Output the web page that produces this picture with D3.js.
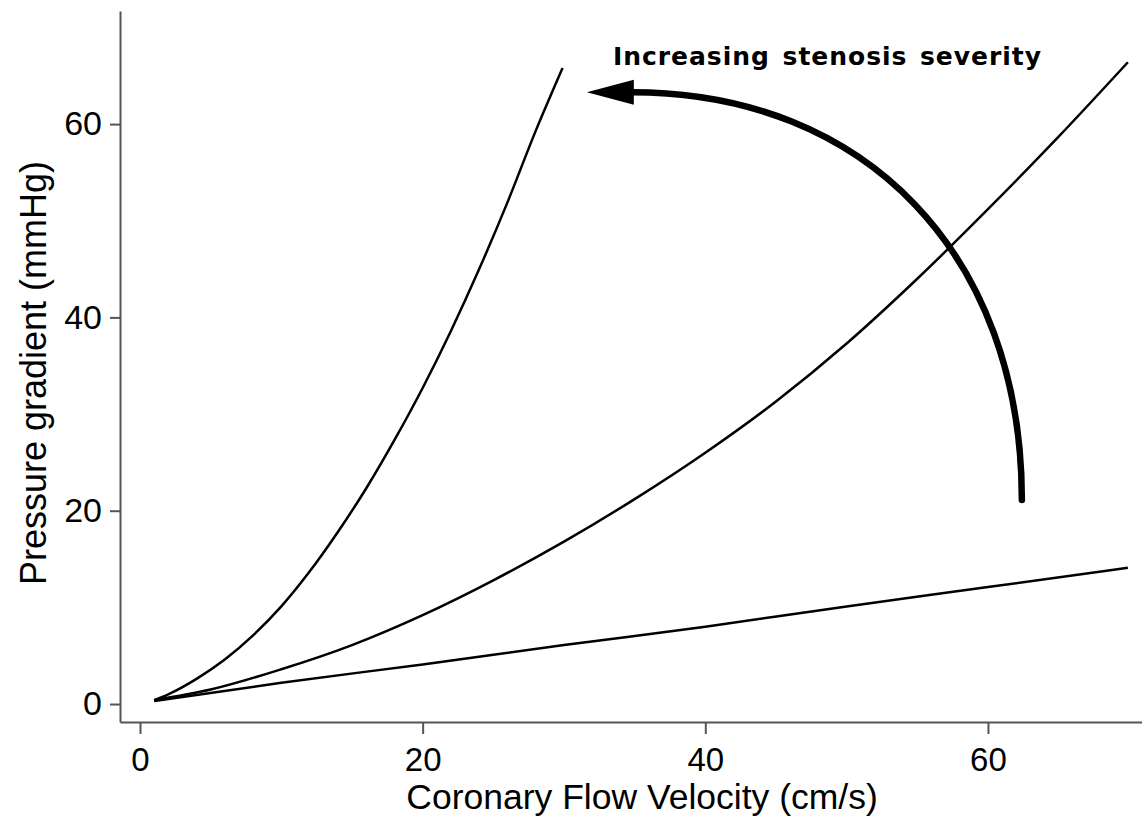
<!DOCTYPE html>
<html>
<head>
<meta charset="utf-8">
<script src="https://cdn.jsdelivr.net/npm/d3@7"></script>
<style>
  body { margin: 0; background: #fff; }
  svg { display: block; }
</style>
</head>
<body>
<svg id="svg1"></svg>
<script>
// data
const xTicks = [0, 20, 40, 60];
const yTicks = [0, 20, 40, 60];

// severe stenosis
const velSevere = [1.0, 2, 4, 6, 8, 10, 12, 14, 16, 18, 20, 22, 24, 26, 28, 29.9];
const presSevere = [0.4, 1.0, 2.6, 4.6, 7.1, 10.1, 13.7, 17.8, 22.3, 27.3, 32.7, 38.6, 45.0, 51.9, 59.3, 65.8];

// moderate stenosis
const velModerate = [1.0, 5, 10, 15, 20, 25, 30, 35, 40, 45, 50, 55, 60, 65, 69.9];
const presModerate = [0.4, 1.5, 3.6, 6.1, 9.2, 12.8, 16.8, 21.2, 26.0, 31.3, 37.3, 44.0, 51.2, 58.7, 66.4];

// mild stenosis
const velMild = [1.0, 10, 20, 30, 40, 50, 60, 69.9];
const presMild = [0.3, 2.2, 4.1, 6.1, 8.0, 10.1, 12.1, 14.1];

// curved annotation arrow (data units): tail, two control points, head base
const arrowVel = [62.4, 62.4, 51.4, 34.8];
const arrowPres = [21.1, 46.4, 63.3, 63.3];

const width = 1142;
const height = 816;

const svg = d3.select('#svg1')
    .attr('width', width)
    .attr('height', height);

const x = d3.scaleLinear()
    .domain([-1.415, 70.9])
    .range([120, 1142]);

const y = d3.scaleLinear()
    .domain([-1.86, 71.7])
    .range([722, 11]);

// X axis
const xAxis = svg.append('g')
    .attr('transform', 'translate(0,722)')
    .call(d3.axisBottom(x).tickValues(xTicks).tickSize(12).tickSizeOuter(0).tickPadding(14));
xAxis.select('.domain').attr('stroke', '#555').attr('stroke-width', 2);
xAxis.selectAll('.tick line').attr('stroke', '#555').attr('stroke-width', 2);
xAxis.selectAll('.tick text')
    .attr('fill', '#000')
    .style('font-family', 'Liberation Sans, Arial, sans-serif')
    .style('font-size', '33px');

// Y axis
const yAxis = svg.append('g')
    .attr('transform', 'translate(120,0)')
    .call(d3.axisLeft(y).tickValues(yTicks).tickSize(10).tickSizeOuter(0).tickPadding(8));
yAxis.select('.domain').attr('stroke', '#555').attr('stroke-width', 2);
yAxis.selectAll('.tick line').attr('stroke', '#555').attr('stroke-width', 2);
yAxis.selectAll('.tick text')
    .attr('fill', '#000')
    .style('font-family', 'Liberation Sans, Arial, sans-serif')
    .style('font-size', '34px');

// axis titles
svg.append('text')
    .attr('x', 642)
    .attr('y', 809)
    .attr('text-anchor', 'middle')
    .style('font-family', 'Liberation Sans, Arial, sans-serif')
    .style('font-size', '35.5px')
    .text('Coronary Flow Velocity (cm/s)');

svg.append('text')
    .attr('transform', 'translate(46,373)rotate(-90)')
    .attr('text-anchor', 'middle')
    .style('font-family', 'Liberation Sans, Arial, sans-serif')
    .style('font-size', '36px')
    .text('Pressure gradient (mmHg)');

// curves
const line = d3.line()
    .x(d => x(d[0]))
    .y(d => y(d[1]))
    .curve(d3.curveMonotoneX);

const series = [
  d3.zip(velSevere, presSevere),
  d3.zip(velModerate, presModerate),
  d3.zip(velMild, presMild)
];

svg.selectAll('path.curve')
    .data(series)
    .enter()
    .append('path')
    .attr('class', 'curve')
    .attr('d', line)
    .attr('fill', 'none')
    .attr('stroke', '#000')
    .attr('stroke-width', 2.5);

// arrow head marker
svg.append('defs')
    .append('marker')
    .attr('id', 'head')
    .attr('markerUnits', 'userSpaceOnUse')
    .attr('viewBox', '0 -14 48 28')
    .attr('refX', 2)
    .attr('refY', 0)
    .attr('markerWidth', 48)
    .attr('markerHeight', 28)
    .attr('orient', 'auto')
    .append('path')
    .attr('d', 'M0,-12.5L47,0L0,12.5Z')
    .attr('fill', '#000');

// arrow body as one cubic bezier
const p = d3.zip(arrowVel, arrowPres).map(d => [x(d[0]), y(d[1])]);
const arc = d3.path();
arc.moveTo(p[0][0], p[0][1]);
arc.bezierCurveTo(p[1][0], p[1][1], p[2][0], p[2][1], p[3][0], p[3][1]);

svg.append('path')
    .attr('d', arc.toString())
    .attr('fill', 'none')
    .attr('stroke', '#000')
    .attr('stroke-width', 6.5)
    .attr('stroke-linecap', 'round')
    .attr('marker-end', 'url(#head)');

svg.append('text')
    .attr('x', 613)
    .attr('y', 65)
    .attr('textLength', 428)
    .attr('lengthAdjust', 'spacing')
    .style('font-family', 'DejaVu Sans, Verdana, sans-serif')
    .style('font-weight', 'bold')
    .style('font-size', '25px')
    .style('word-spacing', '3px')
    .text('Increasing stenosis severity');
</script>
</body>
</html>
